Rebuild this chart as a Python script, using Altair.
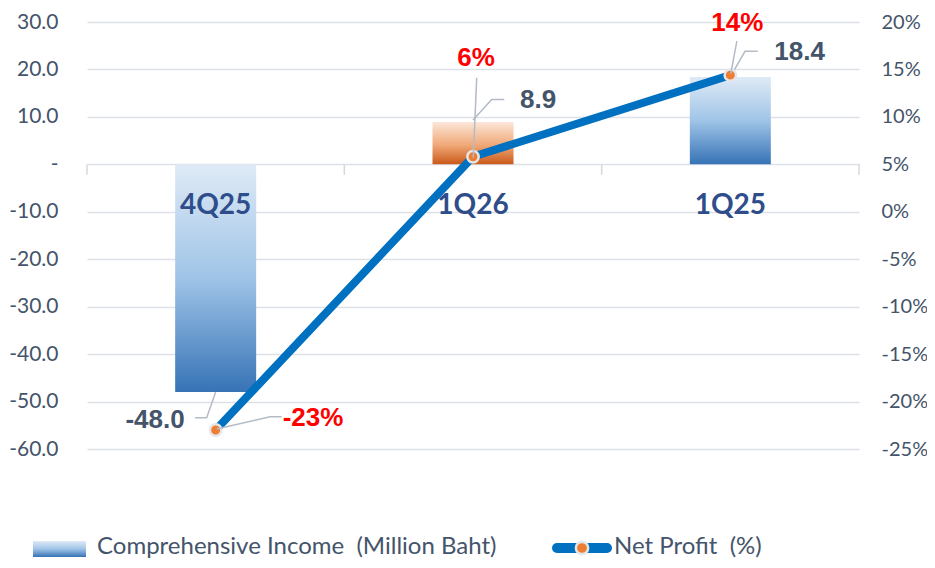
import altair as alt
import pandas as pd

# ---------------- data ----------------
categories = ["4Q25", "1Q26", "1Q25"]
income = [-48.0, 8.9, 18.4]              # Comprehensive Income (Million Baht)
net_profit = [-0.23, 0.058, 0.144]       # Net Profit (%)
income_labels = ["-48.0", "8.9", "18.4"]
profit_labels = ["-23%", "6%", "14%"]
left_ticks = [30, 20, 10, 0, -10, -20, -30, -40, -50, -60]
right_ticks = [0.20, 0.15, 0.10, 0.05, 0.0, -0.05, -0.10, -0.15, -0.20, -0.25]
legend_names = ["Comprehensive Income\u00a0 (Million Baht)", "Net Profit\u00a0 (%)"]

# ---------------- layout / style ----------------
W, H = 772, 427
LEFT_DOM = [-60, 30]
RIGHT_DOM = [-0.25, 0.20]
XU = W / 3.0                          # px per category
LU = H / (LEFT_DOM[1] - LEFT_DOM[0])  # px per left unit
RU = H / (RIGHT_DOM[1] - RIGHT_DOM[0])

AX_COLOR = "#44546a"
GRID = "#dde1e7"
CAT_COLOR = "#2e4d8a"
BLUE_GRAD = alt.Gradient(gradient="linear", x1=0, x2=0, y1=0, y2=1,
                         stops=[alt.GradientStop(color="#dfeaf6", offset=0),
                                alt.GradientStop(color="#9fc4e7", offset=0.5),
                                alt.GradientStop(color="#3673b6", offset=1)])
ORANGE_GRAD = alt.Gradient(gradient="linear", x1=0, x2=0, y1=0, y2=1,
                           stops=[alt.GradientStop(color="#fce6d8", offset=0),
                                  alt.GradientStop(color="#f0a877", offset=0.55),
                                  alt.GradientStop(color="#c9591a", offset=1)])

# label styles: (align, dx, dy)
income_label_style = [("right", -31, 28), ("left", 47, -22), ("left", 44, -25)]
profit_label_style = [("left", 67, -12), ("center", 3, -99), ("center", 7, -52)]
# leader line offsets in px relative to the anchor point
income_leaders = [[(0, 0), (-9, 25.6), (-20.7, 25.6)],
                  [(0, -2), (18.7, -22.5), (31.3, -22.5)],
                  [(1.4, -2.7), (14.7, -25.7), (27.4, -25.7)]]
profit_leaders = [[(1, -1), (54.3, -13.3), (66, -13.3)],
                  [(0.3, 0.9), (3.7, -79)],
                  [(0.4, -1), (6.5, -34)]]

df = pd.DataFrame({"idx": list(range(len(categories))), "cat": categories,
                   "income": income, "profit": net_profit,
                   "ilab": income_labels, "plab": profit_labels})

xscale = alt.Scale(domain=[-0.5, len(categories) - 0.5], nice=False, zero=False, padding=0)
xenc = alt.X("idx:Q", scale=xscale, axis=None)
lscale = alt.Scale(domain=LEFT_DOM, nice=False, zero=False, padding=0)
rscale = alt.Scale(domain=RIGHT_DOM, nice=False, zero=False, padding=0)

base = alt.Chart(df)

left_axis = alt.Axis(values=left_ticks, title=None, grid=True, gridColor=GRID, gridWidth=1.5,
                     domain=False, ticks=False, tickSize=0, labelPadding=29,
                     labelExpr="datum.value == 0 ? '-\u00a0\u00a0' : (datum.value < 0 ? '-' : '') + format(abs(datum.value), '.1f')")
right_axis = alt.Axis(values=right_ticks, orient="right", title=None, grid=False,
                      domain=False, ticks=False, tickSize=0, labelPadding=22, labelFontSize=20,
                      labelExpr="(datum.value < -0.0001 ? '-' : '') + format(abs(datum.value), '.0%')")

# bars (the blue one carries the left axis)
bars_blue = base.transform_filter("datum.cat != '1Q26'").mark_bar(size=81, color=BLUE_GRAD).encode(
    x=xenc, y=alt.Y("income:Q", scale=lscale, axis=left_axis))
bars_orange = base.transform_filter("datum.cat == '1Q26'").mark_bar(size=81, color=ORANGE_GRAD).encode(
    x=xenc, y=alt.Y("income:Q", scale=lscale, axis=None))

# category tick marks on the zero line
bounds = pd.DataFrame({"bx": [i - 0.5 for i in range(len(categories) + 1)]})
bounds["t0"] = 0.0
bounds["t1"] = -10.5 / LU
ticks = alt.Chart(bounds).mark_rule(color="#d4d8de", strokeWidth=1.5).encode(
    x=alt.X("bx:Q", scale=xscale, axis=None),
    y=alt.Y("t0:Q", scale=lscale, axis=None), y2="t1:Q")

cat_labels = base.mark_text(font="Lato", fontWeight="bold", fontSize=28, color=CAT_COLOR,
                            baseline="middle", dy=42).encode(
    x=xenc, y=alt.Y(datum=0, scale=lscale, axis=None), text="cat:N")

rows = []
for i, segs in enumerate(income_leaders):
    for o, (dx, dy) in enumerate(segs):
        rows.append({"g": i, "o": o, "lx": i + dx / XU, "ly": income[i] - dy / LU})
lead_l = alt.Chart(pd.DataFrame(rows)).mark_line(color="#b3bbc7", strokeWidth=1.5).encode(
    x=alt.X("lx:Q", scale=xscale, axis=None),
    y=alt.Y("ly:Q", scale=lscale, axis=None), detail="g:N", order="o:Q")

inc_texts = []
for i, (al, dx, dy) in enumerate(income_label_style):
    inc_texts.append(base.transform_filter(f"datum.idx == {i}").mark_text(
        font="Liberation Sans", fontWeight="bold", fontSize=26, color=AX_COLOR,
        align=al, baseline="middle", dx=dx, dy=dy).encode(
        x=xenc, y=alt.Y("income:Q", scale=lscale, axis=None), text="ilab:N"))

# line (carries the right axis)
line = base.mark_line(color="#0070c0", strokeWidth=8).encode(
    x=xenc, y=alt.Y("profit:Q", scale=rscale, axis=right_axis), order="idx:Q")
pts = base.mark_point(filled=True, shape="circle", size=130, fill="#ed7d31", opacity=1,
                      stroke="#e6e6e6", strokeWidth=2.5).encode(
    x=xenc, y=alt.Y("profit:Q", scale=rscale, axis=None))

rows = []
for i, segs in enumerate(profit_leaders):
    for o, (dx, dy) in enumerate(segs):
        rows.append({"g": i, "o": o, "lx": i + dx / XU, "ly": net_profit[i] - dy / RU})
lead_r = alt.Chart(pd.DataFrame(rows)).mark_line(color="#b3bbc7", strokeWidth=1.5).encode(
    x=alt.X("lx:Q", scale=xscale, axis=None),
    y=alt.Y("ly:Q", scale=rscale, axis=None), detail="g:N", order="o:Q")

pct_texts = []
for i, (al, dx, dy) in enumerate(profit_label_style):
    pct_texts.append(base.transform_filter(f"datum.idx == {i}").mark_text(
        font="Liberation Sans", fontWeight="bold", fontSize=26, color="#ff0000",
        align=al, baseline="middle", dx=dx, dy=dy).encode(
        x=xenc, y=alt.Y("profit:Q", scale=rscale, axis=None), text="plab:N"))

# legend (custom)
one = alt.Chart(pd.DataFrame({"k": [0]}))
leg_swatch = one.mark_rect(color=BLUE_GRAD).encode(
    x=alt.value(-54), x2=alt.value(-1), y=alt.value(519), y2=alt.value(535))
leg_text1 = one.mark_text(font="Lato", fontSize=24, color=AX_COLOR, align="left", baseline="middle").encode(
    x=alt.value(10), y=alt.value(525), text=alt.value(legend_names[0]))
leg_line = one.mark_rule(color="#0070c0", strokeWidth=10, strokeCap="round").encode(
    x=alt.value(470), x2=alt.value(520), y=alt.value(526))
leg_dot = one.mark_point(filled=True, shape="circle", size=150, fill="#ed7d31", opacity=1,
                         stroke="#e6e6e6", strokeWidth=2.5).encode(x=alt.value(495), y=alt.value(526))
leg_text2 = one.mark_text(font="Lato", fontSize=24, color=AX_COLOR, align="left", baseline="middle").encode(
    x=alt.value(527), y=alt.value(525), text=alt.value(legend_names[1]))

chart = alt.layer(
    bars_blue, bars_orange, ticks, cat_labels, lead_l, *inc_texts,
    line, pts, lead_r, *pct_texts,
    leg_swatch, leg_text1, leg_line, leg_dot, leg_text2,
).resolve_scale(y="independent").properties(
    width=W, height=H,
    padding={"left": 79, "top": 14, "right": 68, "bottom": 111},
    autosize=alt.AutoSizeParams(type="none"),
).configure_view(stroke=None).configure_axis(
    labelFont="Lato", labelFontSize=21, labelColor=AX_COLOR
)

chart.save("out.html", embed_options={"renderer": "svg", "actions": False})
